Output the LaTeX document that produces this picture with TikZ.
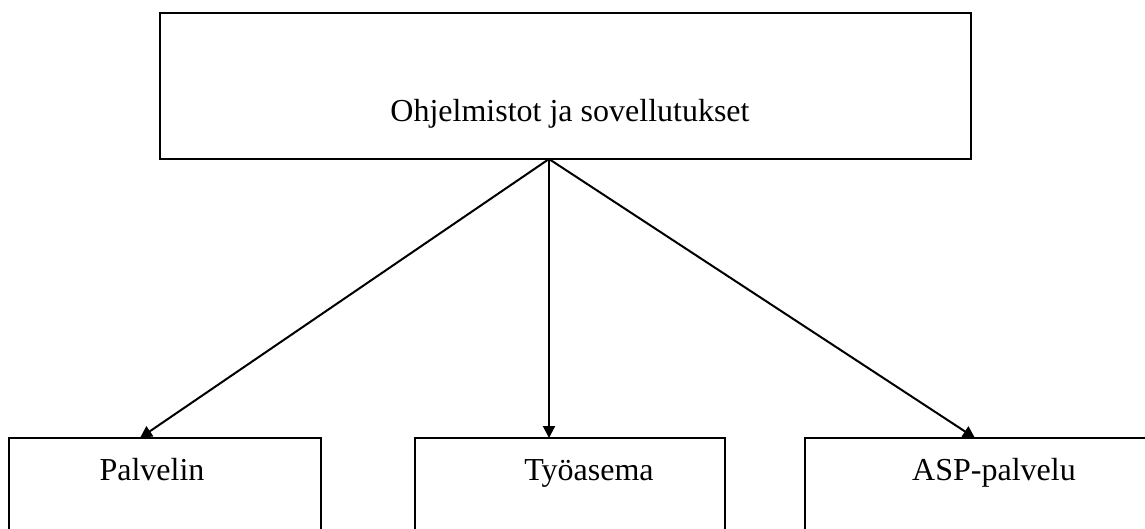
\documentclass[tikz,border=0pt]{standalone}
\usepackage{fontspec}
\setmainfont{Liberation Serif}
\usetikzlibrary{arrows.meta}
\begin{document}
\begin{tikzpicture}[x=1pt,y=-1pt,
  box/.style={draw=black,line width=2pt,fill=white},
  lbl/.style={font=\fontsize{32}{36}\selectfont,anchor=base,inner sep=0pt},
  conn/.style={line width=2pt,-{Triangle[length=12pt,width=12pt]}}]
\useasboundingbox (0,0) rectangle (1145,528);
% boxes
\draw[box] (160,13) rectangle (971,159);
\draw[box] (9,438) rectangle (321,540);
\draw[box] (415,438) rectangle (725,540);
\draw[box] (805,438) rectangle (1160,540);
% labels
\node[lbl] (top) at (570,121) {Ohjelmistot ja sovellutukset};
\node[lbl] (pal) at (152,480) {Palvelin};
\node[lbl] (tyo) at (589,480) {Työasema};
\node[lbl] (asp) at (994,480) {ASP-palvelu};
% connector ends
\coordinate (apex) at (549,159);
\coordinate (tpal) at (140,438);
\coordinate (ttyo) at (549,438);
\coordinate (tasp) at (975,438);
\draw[conn] (apex) -- (tpal);
\draw[conn] (apex) -- (ttyo);
\draw[conn] (apex) -- (tasp);
\end{tikzpicture}
\end{document}
